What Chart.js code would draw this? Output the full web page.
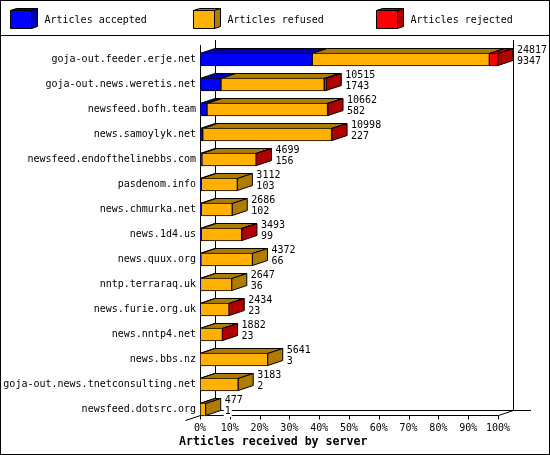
<!DOCTYPE html>
<html>
<head>
<meta charset="utf-8">
<style>
html, body { margin: 0; padding: 0; background: #fff; }
#wrap { width: 550px; height: 455px; }
canvas { display: block; }
</style>
<script src="https://cdn.jsdelivr.net/npm/chart.js@4"></script>
</head>
<body>
<div id="wrap"><canvas id="chart" width="550" height="455"></canvas></div>
<script>
const servers = [
    "goja-out.feeder.erje.net", "goja-out.news.weretis.net", "newsfeed.bofh.team",
    "news.samoylyk.net", "newsfeed.endofthelinebbs.com", "pasdenom.info",
    "news.chmurka.net", "news.1d4.us", "news.quux.org", "nntp.terraraq.uk",
    "news.furie.org.uk", "news.nntp4.net", "news.bbs.nz",
    "goja-out.news.tnetconsulting.net", "newsfeed.dotsrc.org"
];
const totals = [24817, 10515, 10662, 10998, 4699, 3112, 2686, 3493, 4372, 2647, 2434, 1882, 5641, 3183, 477];
const accepted = [9347, 1743, 582, 227, 156, 103, 102, 99, 66, 36, 23, 23, 3, 2, 1];
const refused = [14750, 8602, 10040, 10731, 4518, 3009, 2584, 3374, 4306, 2611, 2396, 1844, 5638, 3181, 476];
const rejected = [720, 170, 40, 40, 25, 0, 0, 20, 0, 0, 15, 15, 0, 0, 0];
const seriesNames = ["Articles accepted", "Articles refused", "Articles rejected"];
const tickLabels = ["0%", "10%", "20%", "30%", "40%", "50%", "60%", "70%", "80%", "90%", "100%"];
const xTitle = "Articles received by server";

const frontColors = ["#0000ff", "#ffb000", "#ff0000"];
const darkColors = ["#0000b0", "#b07c00", "#b00000"];
const FONT = '10px "DejaVu Sans Mono"';
const DX = 15, DY = 5;

function poly(ctx, pts, fill) {
    ctx.beginPath();
    ctx.moveTo(pts[0][0], pts[0][1]);
    for (let i = 1; i < pts.length; i++) ctx.lineTo(pts[i][0], pts[i][1]);
    ctx.closePath();
    ctx.fillStyle = fill;
    ctx.fill();
    ctx.strokeStyle = "#000";
    ctx.lineWidth = 1;
    ctx.stroke();
}

function line(ctx, x1, y1, x2, y2) {
    ctx.beginPath();
    ctx.moveTo(x1, y1);
    ctx.lineTo(x2, y2);
    ctx.stroke();
}

// the 3D faces, the walls and the floor go under the bars
const depthPlugin = {
    id: "depth",
    beforeDatasetsDraw(chart) {
        const ctx = chart.ctx;
        const x = chart.scales.x;
        const left = Math.round(x.left) + 0.5, right = Math.round(x.right) + 0.5;
        const floor = 415.5;
        ctx.save();
        ctx.strokeStyle = "#000";
        ctx.lineWidth = 1;
        line(ctx, left, 45, left, floor);
        line(ctx, left + DX, 40, left + DX, floor - DY);
        line(ctx, right + DX, 40, right + DX, floor - DY);
        line(ctx, left + DX, floor - DY, 531, floor - DY);
        line(ctx, left - 15, floor + DY, left, floor);
        line(ctx, left, floor, right, floor);
        line(ctx, right, floor, right + DX, floor - DY);
        x.ticks.forEach((t, i) => {
            const px = Math.round(x.getPixelForTick(i)) + 0.5;
            line(ctx, px, floor, px, floor + 4);
        });
        servers.forEach((name, r) => {
            const metas = [0, 1, 2].map(d => chart.getDatasetMeta(d).data[r]);
            const top = metas[0].y - metas[0].height / 2 + 0.5;
            const bottom = top + 12;
            let last = 0;
            metas.forEach((bar, d) => {
                if (chart.data.datasets[d].data[r] <= 0) return;
                last = d;
                const a = bar.base, b = bar.x;
                poly(ctx, [[a, top], [a + DX, top - DY], [b + DX, top - DY], [b, top]], darkColors[d]);
            });
            const end = metas[last].x;
            poly(ctx, [[end, top], [end + DX, top - DY], [end + DX, bottom - DY], [end, bottom]], darkColors[last]);
        });
        ctx.restore();
    },
    afterDatasetsDraw(chart) {
        const ctx = chart.ctx;
        ctx.save();
        ctx.font = FONT;
        ctx.textBaseline = "middle";
        ctx.textAlign = "left";
        servers.forEach((name, r) => {
            const bar = chart.getDatasetMeta(0).data[r];
            const lx = chart.scales.x.getPixelForValue(totals[r]) + 19;
            [totals[r], accepted[r]].forEach((v, k) => {
                const ly = bar.y - 9.5 + k * 11;
                const w = ctx.measureText(String(v)).width;
                ctx.fillStyle = "#fff";
                ctx.fillRect(lx - 1, ly - 5, w + 2, 11);
                ctx.fillStyle = "#000";
                ctx.fillText(String(v), lx, ly);
            });
        });
        ctx.restore();
    },
    afterDraw(chart) {
        const ctx = chart.ctx;
        ctx.save();
        ctx.strokeStyle = "#000";
        ctx.lineWidth = 1;
        ctx.strokeRect(0.5, 0.5, 549, 454);
        line(ctx, 0, 35.5, 550, 35.5);
        // legend boxes
        seriesNames.forEach((name, i) => {
            const bx = 10.5 + i * 183, by = 10.5;
            poly(ctx, [[bx, by], [bx + 21, by], [bx + 21, by + 18], [bx, by + 18]], frontColors[i]);
            poly(ctx, [[bx, by], [bx + 6, by - 2], [bx + 21 + 6, by - 2], [bx + 21, by]], darkColors[i]);
            poly(ctx, [[bx + 21, by], [bx + 27, by - 2], [bx + 27, by + 16], [bx + 21, by + 18]], darkColors[i]);
            ctx.fillStyle = "#000";
            ctx.font = FONT;
            ctx.textBaseline = "middle";
            ctx.textAlign = "left";
            ctx.fillText(name, 44.5 + i * 183, 20);
        });
        ctx.font = 'bold 11.6px "DejaVu Sans Mono"';
        ctx.textAlign = "left";
        ctx.textBaseline = "middle";
        ctx.fillStyle = "#000";
        ctx.fillText(xTitle, 179, 441.5);
        ctx.restore();
    }
};

const ctx = document.getElementById("chart");
new Chart(ctx, {
    type: "bar",
    data: {
        labels: servers,
        datasets: [
            { label: seriesNames[0], data: accepted, backgroundColor: frontColors[0] },
            { label: seriesNames[1], data: refused, backgroundColor: frontColors[1] },
            { label: seriesNames[2], data: rejected, backgroundColor: frontColors[2] }
        ].map(d => Object.assign(d, {
            borderColor: "#000",
            borderWidth: 1,
            borderSkipped: false,
            barThickness: 13,
            categoryPercentage: 1,
            barPercentage: 1
        }))
    },
    options: {
        indexAxis: "y",
        responsive: false,
        animation: false,
        events: [],
        layout: { padding: { left: 0, right: 52, top: 47, bottom: 0 } },
        plugins: { legend: { display: false }, tooltip: { enabled: false } },
        scales: {
            x: {
                stacked: true,
                min: 0,
                max: 24817,
                afterBuildTicks(scale) {
                    scale.ticks = tickLabels.map((t, i) => ({ value: 24817 * i / 10 }));
                },
                afterFit(scale) { scale.height = 33; },
                grid: { display: false, drawTicks: false },
                border: { display: false },
                ticks: {
                    autoSkip: false,
                    maxRotation: 0,
                    padding: 0,
                    color: "#000",
                    font: { family: "DejaVu Sans Mono", size: 10 },
                    callback(value, index) { return tickLabels[index]; }
                }
            },
            y: {
                stacked: true,
                afterFit(scale) { scale.width = 200; },
                grid: { display: false, drawTicks: false },
                border: { display: false },
                ticks: {
                    autoSkip: false,
                    padding: 4,
                    color: "#000",
                    font: { family: "DejaVu Sans Mono", size: 10 }
                }
            }
        }
    },
    plugins: [depthPlugin]
});
</script>
</body>
</html>
